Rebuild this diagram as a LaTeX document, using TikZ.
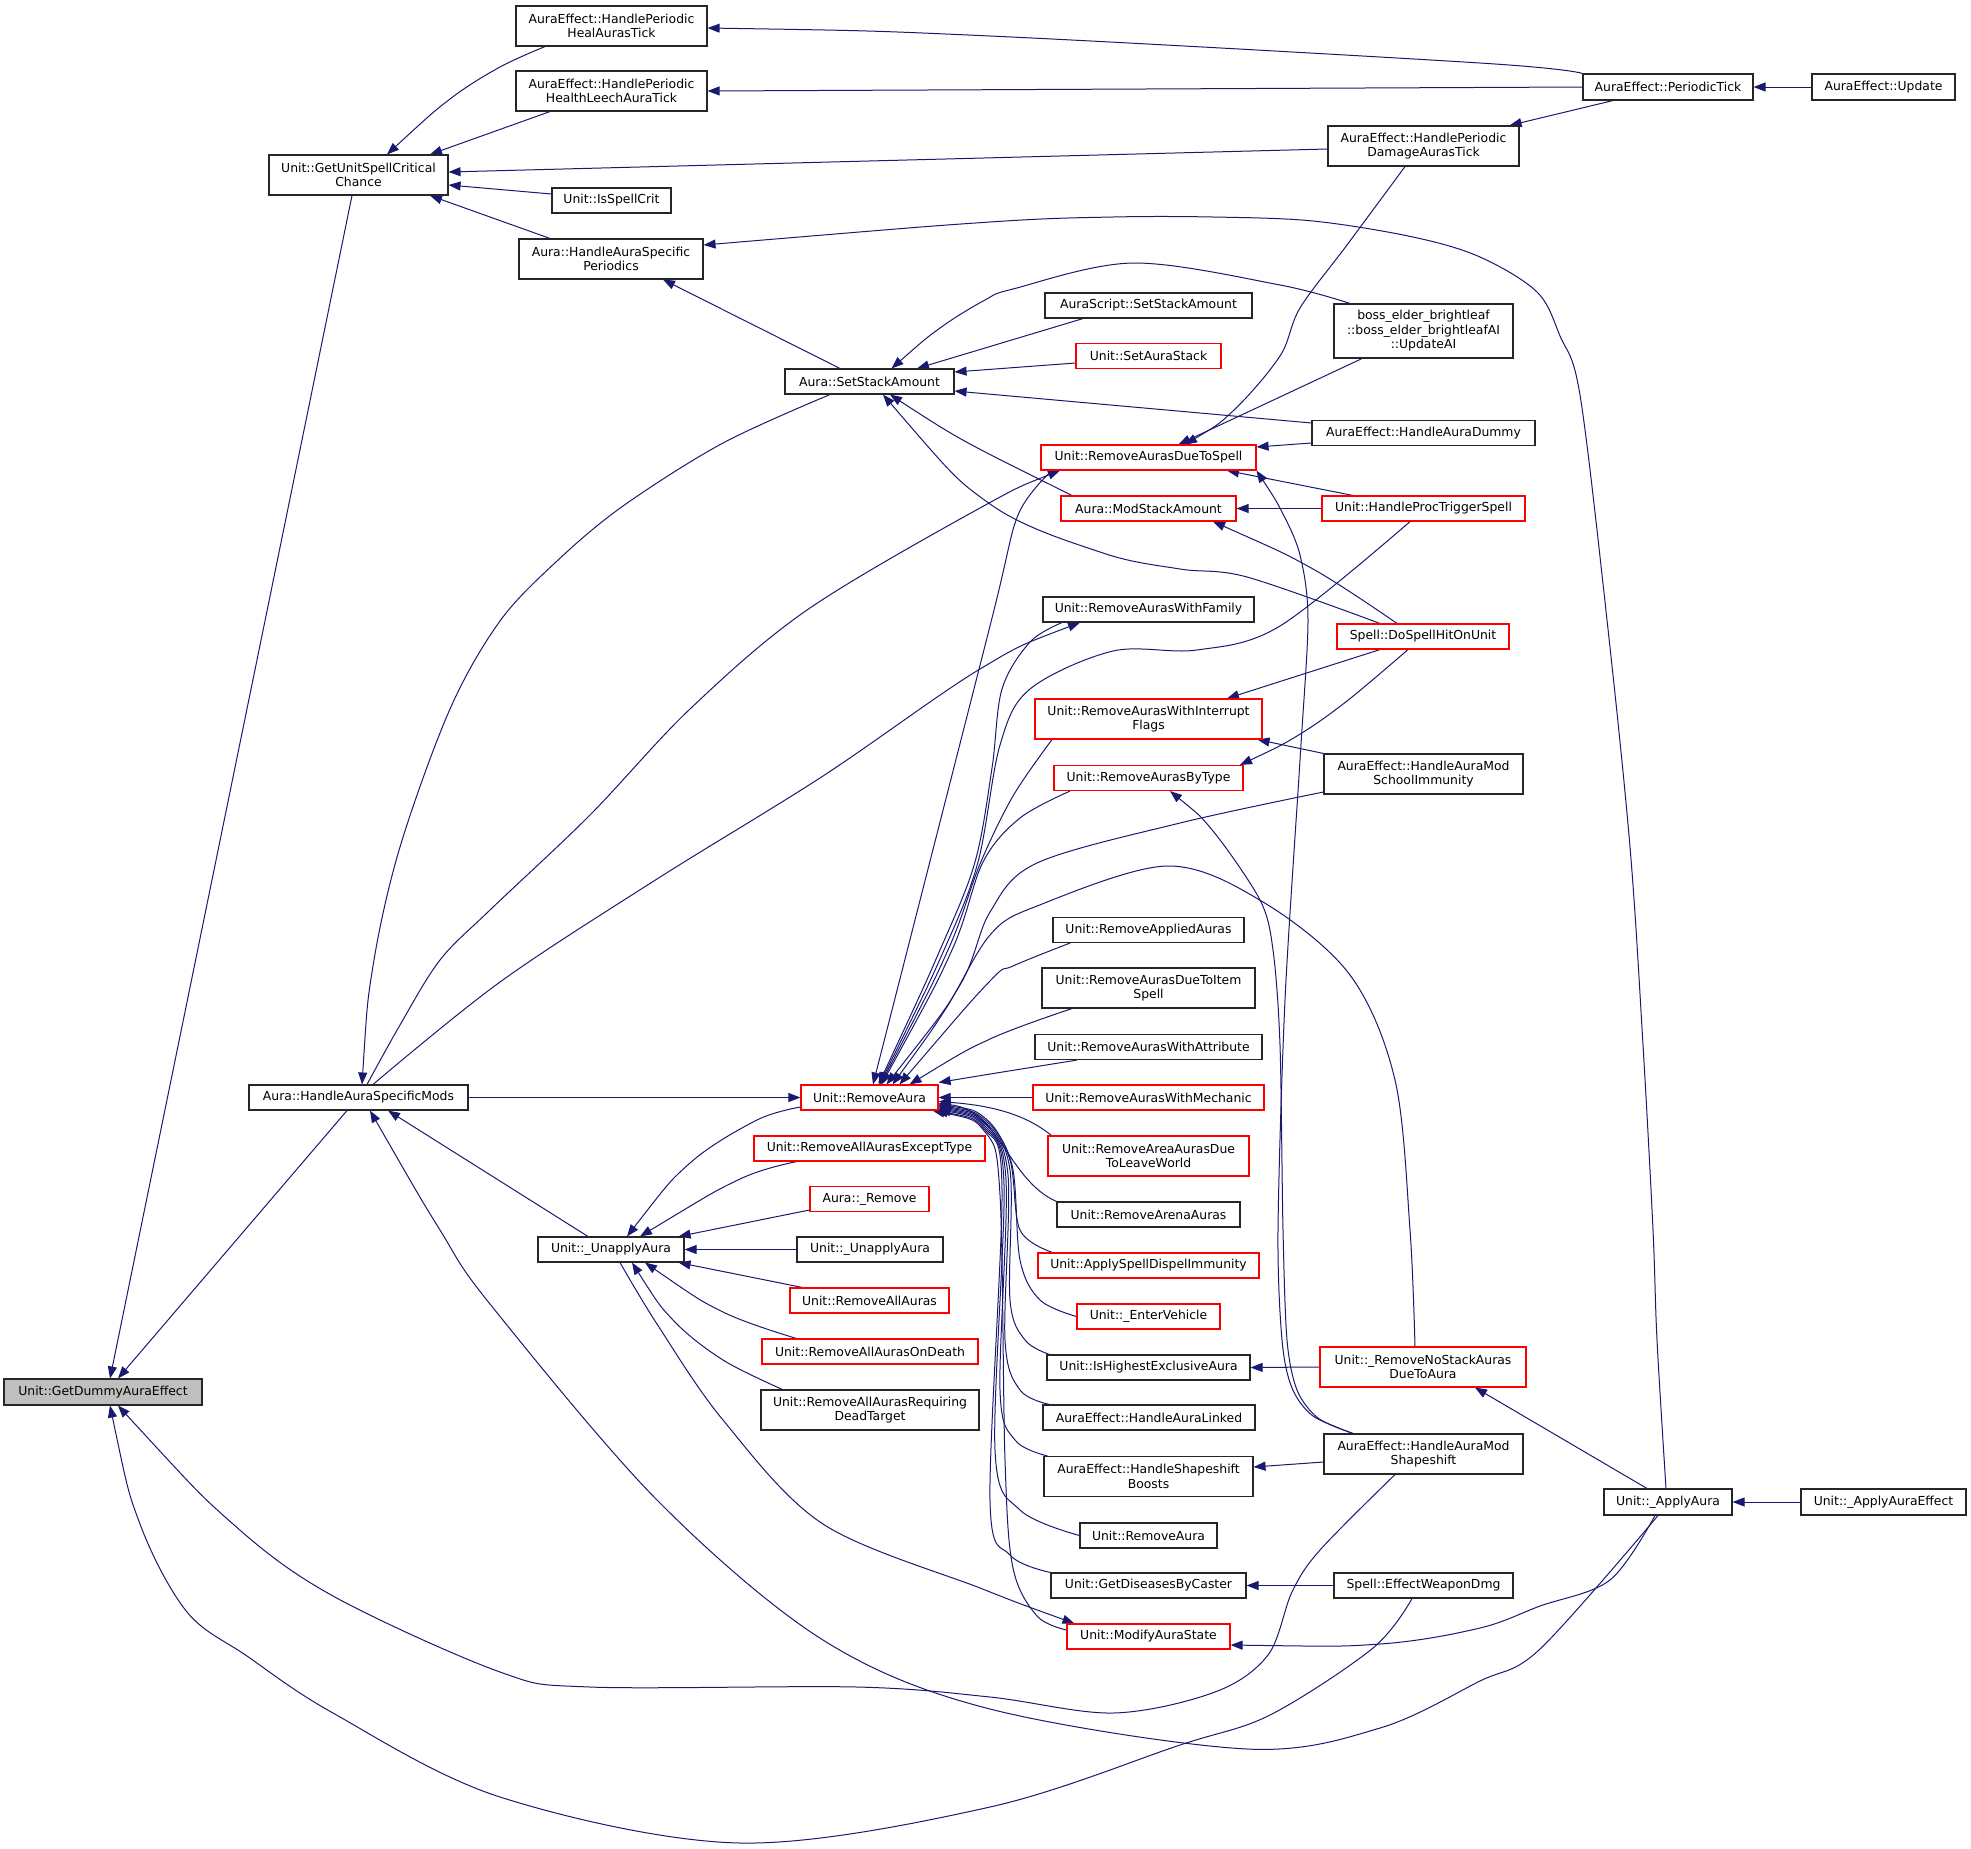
\documentclass[tikz,border=0pt]{standalone}
\usepackage{fontspec}
\newfontfamily\dvs{DejaVu Sans}
\usetikzlibrary{arrows.meta}
\pgfdeclarelayer{bg}
\pgfsetlayers{bg,main}
\definecolor{edgec}{HTML}{191970}
\definecolor{redc}{HTML}{FF0000}
\definecolor{grayfill}{HTML}{BFBFBF}
\tikzset{
 nb/.style={draw=black!85, line width=1.1pt, inner sep=0pt, align=center, font={\dvs\fontsize{12.4}{14.5}\selectfont}, text=black, fill=white},
 nr/.style={nb, draw=redc},
 e/.style={draw=edgec, line width=1pt, arrows={Triangle[length=12pt,width=9pt]-}},
}
\begin{document}
\begin{tikzpicture}[x=1pt,y=-1pt]
\useasboundingbox (0,0) rectangle (1971,1848);
\node[nb, fill=grayfill, minimum width=198pt, minimum height=26pt] (gdae) at (103,1392) {Unit::GetDummyAuraEffect};
\node[nb, minimum width=179pt, minimum height=40pt] (guscc) at (358.5,175) {Unit::GetUnitSpellCritical\\Chance};
\node[nb, minimum width=191pt, minimum height=40pt] (heal) at (611.5,26) {AuraEffect::HandlePeriodic\\HealAurasTick};
\node[nb, minimum width=191pt, minimum height=40pt] (leech) at (611.5,91) {AuraEffect::HandlePeriodic\\HealthLeechAuraTick};
\node[nb, minimum width=119pt, minimum height=25pt] (crit) at (611.5,200.5) {Unit::IsSpellCrit};
\node[nb, minimum width=184pt, minimum height=40pt] (hasp) at (611,259) {Aura::HandleAuraSpecific\\Periodics};
\node[nb, minimum width=169pt, minimum height=25pt] (ssa) at (869.5,381.5) {Aura::SetStackAmount};
\node[nb, minimum width=219pt, minimum height=25pt] (hasm) at (358.5,1097.5) {Aura::HandleAuraSpecificMods};
\node[nr, minimum width=137pt, minimum height=25pt] (ra) at (869.5,1097.5) {Unit::RemoveAura};
\node[nb, minimum width=146pt, minimum height=25pt] (uaura) at (611,1249.5) {Unit::\_UnapplyAura};
\node[nb, minimum width=191pt, minimum height=40pt] (dat) at (1423.5,146) {AuraEffect::HandlePeriodic\\DamageAurasTick};
\node[nb, minimum width=207pt, minimum height=25pt] (asssa) at (1148.5,305.5) {AuraScript::SetStackAmount};
\node[nr, minimum width=145pt, minimum height=25pt] (sas) at (1148.5,356) {Unit::SetAuraStack};
\node[nr, minimum width=215pt, minimum height=25pt] (radts) at (1148.5,457.5) {Unit::RemoveAurasDueToSpell};
\node[nr, minimum width=175pt, minimum height=25pt] (msa) at (1148.5,508.5) {Aura::ModStackAmount};
\node[nb, minimum width=211pt, minimum height=25pt] (rawf) at (1148.5,609.5) {Unit::RemoveAurasWithFamily};
\node[nr, minimum width=227pt, minimum height=40pt] (rawif) at (1148.5,719) {Unit::RemoveAurasWithInterrupt\\Flags};
\node[nr, minimum width=189pt, minimum height=25pt] (rabt) at (1148.5,778) {Unit::RemoveAurasByType};
\node[nb, minimum width=191pt, minimum height=25pt] (raa) at (1148.5,930) {Unit::RemoveAppliedAuras};
\node[nb, minimum width=213pt, minimum height=40pt] (radtis) at (1148.5,988) {Unit::RemoveAurasDueToItem\\Spell};
\node[nb, minimum width=227pt, minimum height=25pt] (rawa) at (1148.5,1047) {Unit::RemoveAurasWithAttribute};
\node[nr, minimum width=231pt, minimum height=25pt] (rawm) at (1148.5,1097.5) {Unit::RemoveAurasWithMechanic};
\node[nr, minimum width=201pt, minimum height=40pt] (raadtlw) at (1148.5,1156) {Unit::RemoveAreaAurasDue\\ToLeaveWorld};
\node[nb, minimum width=183pt, minimum height=25pt] (rara) at (1148.5,1214.5) {Unit::RemoveArenaAuras};
\node[nr, minimum width=221pt, minimum height=25pt] (asdi) at (1148.5,1265.5) {Unit::ApplySpellDispelImmunity};
\node[nr, minimum width=143pt, minimum height=25pt] (ev) at (1148.5,1316.5) {Unit::\_EnterVehicle};
\node[nb, minimum width=203pt, minimum height=25pt] (hea) at (1148.5,1367.5) {Unit::IsHighestExclusiveAura};
\node[nb, minimum width=212pt, minimum height=25pt] (hal) at (1149,1417.5) {AuraEffect::HandleAuraLinked};
\node[nb, minimum width=209pt, minimum height=40pt] (hsb) at (1148.5,1476.5) {AuraEffect::HandleShapeshift\\Boosts};
\node[nb, minimum width=137pt, minimum height=25pt] (ra2) at (1148.5,1535.5) {Unit::RemoveAura};
\node[nb, minimum width=195pt, minimum height=25pt] (gdbc) at (1148.5,1585.5) {Unit::GetDiseasesByCaster};
\node[nr, minimum width=163pt, minimum height=25pt] (mas) at (1148.5,1636.5) {Unit::ModifyAuraState};
\node[nr, minimum width=231pt, minimum height=25pt] (raaet) at (869.5,1148.5) {Unit::RemoveAllAurasExceptType};
\node[nr, minimum width=119pt, minimum height=25pt] (arem) at (869.5,1199) {Aura::\_Remove};
\node[nb, minimum width=146pt, minimum height=25pt] (uaura2) at (870,1249.5) {Unit::\_UnapplyAura};
\node[nr, minimum width=159pt, minimum height=25pt] (raall) at (869.5,1300.5) {Unit::RemoveAllAuras};
\node[nr, minimum width=216pt, minimum height=25pt] (raaod) at (870,1351.5) {Unit::RemoveAllAurasOnDeath};
\node[nb, minimum width=218pt, minimum height=40pt] (raard) at (870,1410) {Unit::RemoveAllAurasRequiring\\DeadTarget};
\node[nb, minimum width=170pt, minimum height=26pt] (pt) at (1668,87) {AuraEffect::PeriodicTick};
\node[nb, minimum width=143pt, minimum height=26pt] (upd) at (1883.5,87) {AuraEffect::Update};
\node[nb, minimum width=179pt, minimum height=54pt] (boss) at (1423.5,331) {boss\_elder\_brightleaf\\::boss\_elder\_brightleafAI\\::UpdateAI};
\node[nb, minimum width=223pt, minimum height=25pt] (had) at (1423.5,433) {AuraEffect::HandleAuraDummy};
\node[nr, minimum width=203pt, minimum height=25pt] (hpts) at (1423.5,508.5) {Unit::HandleProcTriggerSpell};
\node[nr, minimum width=172pt, minimum height=25pt] (dshou) at (1423,636.5) {Spell::DoSpellHitOnUnit};
\node[nb, minimum width=199pt, minimum height=40pt] (hamsi) at (1423.5,774) {AuraEffect::HandleAuraMod\\SchoolImmunity};
\node[nr, minimum width=206pt, minimum height=40pt] (rnsa) at (1423,1367) {Unit::\_RemoveNoStackAuras\\DueToAura};
\node[nb, minimum width=199pt, minimum height=40pt] (hams) at (1423.5,1454) {AuraEffect::HandleAuraMod\\Shapeshift};
\node[nb, minimum width=179pt, minimum height=25pt] (ewd) at (1423.5,1585.5) {Spell::EffectWeaponDmg};
\node[nb, minimum width=128pt, minimum height=26pt] (aa) at (1668,1502) {Unit::\_ApplyAura};
\node[nb, minimum width=165pt, minimum height=26pt] (aae) at (1883.5,1502) {Unit::\_ApplyAuraEffect};

\begin{pgfonlayer}{bg}
% into GetDummyAuraEffect
\draw[e] ([xshift=7pt]gdae.north) -- ([xshift=-6.5pt]guscc.south);
\draw[e] ([xshift=15pt]gdae.north) -- ([xshift=-11.5pt]hasm.south);
\draw[e] plot[smooth,tension=0.55] coordinates {([xshift=15pt]gdae.south) (233,1524) (333,1596) (500,1672) (590,1687) (857,1687) (990,1697) (1113,1713) (1215,1692) (1268,1655) (1292,1592) (1320,1550) ([xshift=-28.5pt]hams.south)};
\draw[e] plot[smooth,tension=0.55] coordinates {([xshift=7pt]gdae.south) (140,1524) (187,1612) (247,1656) (333,1713) (500,1797) (740,1843) (990,1807) (1180,1745) (1270,1715) (1373,1648) ([xshift=-11.5pt]ewd.south)};
% into HandleAuraSpecificMods
\draw[e] plot[smooth,tension=0.55] coordinates {([xshift=11.5pt]hasm.south) (440,1230) (490,1304) (657,1500) (823,1640) (990,1709) (1247,1749) (1380,1728) (1480,1681) (1540,1649) ([xshift=-10pt]aa.south)};
\draw[e] ([xshift=29.5pt]hasm.south) -- ([xshift=-23pt]uaura.north);
\draw[e] plot[smooth,tension=0.55] coordinates {([xshift=3.5pt]hasm.north) (373,966) (400,847) (450,709) (500,621) (557,561) (623,506) (723,443) ([xshift=-39.5pt]ssa.south)};
% from HandleAuraSpecificMods (back edges)
\draw[e] (ra.west) -- (hasm.east);
\draw[e] plot[smooth,tension=0.55] coordinates {([xshift=-88.5pt]radts.south) (980,508) (807,610) (690,709) (590,815) (490,910) (440,960) (400,1025) ([xshift=8.5pt]hasm.north)};
\draw[e] plot[smooth,tension=0.55] coordinates {([xshift=-68.5pt]rawf.south) (980,669) (823,776) (657,879) (500,982) ([xshift=14.5pt]hasm.north)};
% into _UnapplyAura
\draw[e] plot[smooth,tension=0.55] coordinates {([xshift=16pt]uaura.north) (690,1163) (757,1120) ([yshift=-9.5pt]ra.west)};
\draw[e] plot[smooth,tension=0.55] coordinates {([xshift=29pt]uaura.north) (740,1179) ([xshift=-72.5pt]raaet.south)};
\draw[e] ([xshift=-6pt]uaura.north east) -- ([yshift=-11pt]arem.west);
\draw[e] (uaura.east) -- (uaura2.west);
\draw[e] ([xshift=-6pt]uaura.south east) -- ([xshift=13pt]raall.north west);
\draw[e] plot[smooth,tension=0.55] coordinates {([xshift=34pt]uaura.south) (723,1312) ([xshift=35pt]raaod.north west)};
\draw[e] plot[smooth,tension=0.55] coordinates {([xshift=21pt]uaura.south) (673,1320) (723,1360) ([xshift=22pt]raard.north west)};
\draw[e] plot[smooth,tension=0.55] coordinates {([xshift=8pt]mas.north west) (980,1588) (823,1524) (723,1420) (657,1324) ([xshift=9pt]uaura.south)};
% into RemoveAura
\draw[e] plot[smooth,tension=0.5] coordinates {([xshift=3.5pt]ra.north) (990,626) (1018,515) ([xshift=-96.5pt]radts.south)};
\draw[e] plot[smooth,tension=0.55] coordinates {([xshift=9pt]ra.north) (940,950) (975,862) (992,768) (1002,689) (1030,642) ([xshift=-86.5pt]rawf.south)};
\draw[e] plot[smooth,tension=0.55] coordinates {([xshift=10pt]ra.north) (944,950) (978,862) (1000,745) (1030,689) (1113,651) (1197,650) (1280,626) ([xshift=-13.5pt]hpts.south)};
\draw[e] plot[smooth,tension=0.55] coordinates {([xshift=11pt]ra.north) (948,950) (980,864) (1013,796) ([xshift=-96.5pt]rawif.south)};
\draw[e] plot[smooth,tension=0.55] coordinates {([xshift=12pt]ra.north) (952,950) (983,862) (1020,818) ([xshift=-78.5pt]rabt.south)};
\draw[e] plot[smooth,tension=0.55] coordinates {([xshift=17pt]ra.north) (960,985) (990,912) (1037,863) (1180,823) ([yshift=-18pt]hamsi.west)};
\draw[e] plot[smooth,tension=0.55] coordinates {([xshift=23pt]ra.north) (945,1010) (990,935) (1037,906) (1167,866) (1263,902) (1350,975) (1395,1080) (1410,1230) ([xshift=-8pt]rnsa.north)};
\draw[e] plot[smooth,tension=0.55] coordinates {([xshift=30pt]ra.north) (990,981) (1013,966) ([xshift=-78.5pt]raa.south)};
\draw[e] plot[smooth,tension=0.55] coordinates {([xshift=40pt]ra.north) (990,1039) ([xshift=-76.5pt]radtis.south)};
\draw[e] ([yshift=15pt]ra.east) .. controls (990,1074) .. ([xshift=-71.5pt]rawa.south);
\draw[e] (ra.east) -- (rawm.west);
\draw[e] ([yshift=-4pt]ra.east) .. controls (1000,1106) and (1030,1118) .. ([xshift=4pt]raadtlw.north west);
\draw[e] ([yshift=-6pt]ra.east) .. controls (1000,1110) and (1008,1180) .. (rara.north west);
\draw[e] plot[smooth,tension=0.55] coordinates {([yshift=-7pt]ra.east) (985,1118) (1010,1160) (1020,1230) ([xshift=15pt]asdi.north west)};
\draw[e] plot[smooth,tension=0.55] coordinates {([yshift=-8pt]ra.east) (985,1120) (1012,1165) (1020,1260) (1040,1300) (ev.west)};
\draw[e] plot[smooth,tension=0.55] coordinates {([yshift=-9pt]ra.east) (985,1122) (1010,1170) (1010,1300) (1025,1340) ([xshift=3pt]hea.north west)};
\draw[e] plot[smooth,tension=0.55] coordinates {([yshift=-10pt]ra.east) (985,1124) (1008,1175) (1005,1340) (1020,1390) ([xshift=7pt]hal.north west)};
\draw[e] plot[smooth,tension=0.55] coordinates {([yshift=-11pt]ra.east) (985,1126) (1006,1180) (1000,1390) (1015,1440) ([xshift=4pt]hsb.north west)};
\draw[e] plot[smooth,tension=0.55] coordinates {([yshift=-12pt]ra.east) (985,1128) (1004,1185) (995,1450) (1020,1510) (ra2.west)};
\draw[e] plot[smooth,tension=0.55] coordinates {([xshift=-3pt]ra.south east) (985,1130) (1002,1190) (990,1500) (1010,1555) (gdbc.north west)};
\draw[e] plot[smooth,tension=0.55] coordinates {([xshift=-6pt]ra.south east) (985,1132) (1000,1195) (1005,1460) (1013,1568) (1037,1616) ([yshift=6.5pt]mas.west)};
% into RemoveAurasDueToSpell
\draw[e] plot[smooth,tension=0.55] coordinates {([xshift=36.5pt]radts.north) (1233,411) (1280,356) (1300,308) (1347,245) ([xshift=-18.5pt]dat.south)};
\draw[e] ([xshift=30pt]radts.north) -- ([xshift=-61.5pt]boss.south);
\draw[e] ([yshift=10.5pt]radts.east) -- ([yshift=-10pt]had.west);
\draw[e] ([xshift=78.5pt]radts.south) -- ([xshift=-70.5pt]hpts.north);
\draw[e] plot[smooth,tension=0.5] coordinates {(radts.south east) (1282,512) (1300,555) (1308,620) (1300,760) (1285,1000) (1278,1230) (1282,1340) (1292,1388) (1313,1416) ([xshift=-70.5pt]hams.north)};
\draw[e] plot[smooth,tension=0.5] coordinates {([xshift=21.5pt]rabt.south) (1213,831) (1260,900) (1273,950) (1280,1045) (1283,1230) (1287,1340) (1297,1390) (1318,1418) ([xshift=-70.5pt]hams.north)};
% ModStackAmount
\draw[e] (msa.east) -- (hpts.west);
\draw[e] plot[smooth,tension=0.55] coordinates {([xshift=64.5pt]msa.south) (1313,569) ([xshift=-26pt]dshou.north)};
% SetStackAmount
\draw[e] plot[smooth,tension=0.55] coordinates {([xshift=22pt]ssa.north) (940,328) (985,300) (1013,289) (1133,263) (1280,285) ([xshift=-73.5pt]boss.north)};
\draw[e] ([xshift=47.5pt]ssa.north) -- ([xshift=-65.5pt]asssa.south);
\draw[e] ([yshift=9.5pt]ssa.east) -- ([yshift=-7pt]sas.west);
\draw[e] ([yshift=-9.5pt]ssa.east) -- ([yshift=10pt]had.west);
\draw[e] ([xshift=20.5pt]ssa.south) .. controls (960,440) .. ([xshift=-76.5pt]msa.north);
\draw[e] plot[smooth,tension=0.55] coordinates {([xshift=13.5pt]ssa.south) (990,504) (1103,553) (1180,569) (1247,577) ([xshift=-43pt]dshou.north)};
% DoSpellHitOnUnit and others
\draw[e] ([xshift=78.5pt]rawif.north) -- ([xshift=-43pt]dshou.south);
\draw[e] plot[smooth,tension=0.55] coordinates {([xshift=91.5pt]rabt.north) (1297,736) (1347,701) ([xshift=-15pt]dshou.south)};
\draw[e] ([xshift=-5pt]rawif.south east) -- (hamsi.north west);
\draw[e] (hea.east) -- (rnsa.west);
\draw[e] ([xshift=52pt]rnsa.south) -- ([xshift=-21pt]aa.north);
\draw[e] plot[smooth,tension=0.55] coordinates {([yshift=14pt]hasp.east) (990,222) (1113,217) (1213,217) (1313,221) (1413,237) (1480,257) (1537,292) (1560,336) (1580,395) (1607,620) (1630,847) (1643,1045) (1653,1230) (1657,1340) ([xshift=-2pt]aa.north)};
\draw[e] plot[smooth,tension=0.55] coordinates {([yshift=-8.5pt]mas.east) (1380,1644) (1480,1628) (1540,1606) (1610,1580) ([xshift=-13pt]aa.south)};
\draw[e] (aa.east) -- (aae.west);
\draw[e] ([yshift=9.5pt]hsb.east) -- ([yshift=-8pt]hams.west);
\draw[e] (gdbc.east) -- (ewd.west);
% PeriodicTick
\draw[e] plot[smooth,tension=0.55] coordinates {([yshift=-2pt]heal.east) (990,36) (1480,63) (pt.north west)};
\draw[e] (leech.east) -- (pt.west);
\draw[e] ([xshift=-10pt]dat.north east) -- ([xshift=-55pt]pt.south);
\draw[e] (pt.east) -- (upd.west);
% GetUnitSpellCriticalChance
\draw[e] plot[smooth,tension=0.55] coordinates {([xshift=28.5pt]guscc.north) (450,99) (500,67) ([xshift=-66.5pt]heal.south)};
\draw[e] ([xshift=71.5pt]guscc.north) -- ([xshift=-61.5pt]leech.south);
\draw[e] ([yshift=3pt]guscc.east) -- ([yshift=-3pt]dat.west);
\draw[e] ([yshift=-10pt]guscc.east) -- ([yshift=6.5pt]crit.west);
\draw[e] ([xshift=71.5pt]guscc.south) -- ([xshift=-61pt]hasp.north);
\draw[e] ([xshift=52pt]hasp.south) -- ([xshift=-29.5pt]ssa.north);
\end{pgfonlayer}
\end{tikzpicture}
\end{document}
